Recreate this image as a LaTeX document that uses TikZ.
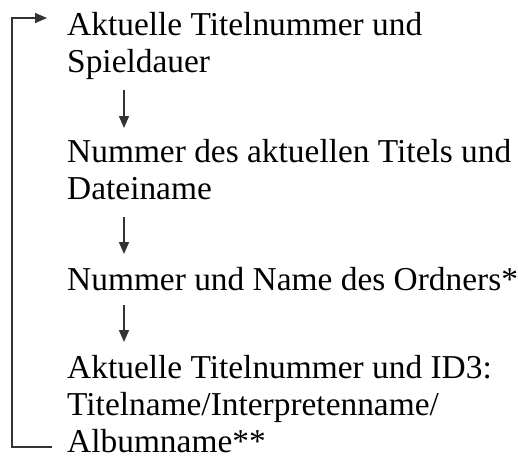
\documentclass[tikz,border=0pt]{standalone}
\usepackage{fontspec}
\setmainfont{Liberation Serif}
\usetikzlibrary{arrows.meta}
\begin{document}
\begin{tikzpicture}[x=1pt,y=-1pt,
  txt/.style={anchor=base west,inner sep=0pt,font=\fontsize{33.4}{37}\selectfont,text=black},
  conn/.style={line width=1.5pt,draw=black!80},
  arr/.style={conn,-{Triangle[length=12pt,width=10pt]}}]
\useasboundingbox (0,0) rectangle (518,459);
\coordinate (ax) at (124,0);
\node[txt] (b1a) at (67,35) {Aktuelle Titelnummer und};
\node[txt] (b1b) at (67,72) {Spieldauer};
\node[txt] (b2a) at (67,162) {Nummer des aktuellen Titels und};
\node[txt] (b2b) at (67,199) {Dateiname};
\node[txt] (b3a) at (67,290) {Nummer und Name des Ordners*};
\node[txt] (b4a) at (67,378) {Aktuelle Titelnummer und ID3:};
\node[txt] (b4b) at (67,415) {Titelname/Interpretenname/};
\node[txt] (b4c) at (67,452) {Albumname**};
\draw[arr] ([yshift=-18pt]b1b.base west -| ax) -- ([yshift=34pt]b2a.base west -| ax);
\draw[arr] ([yshift=-18pt]b2b.base west -| ax) -- ([yshift=36pt]b3a.base west -| ax);
\draw[arr] ([yshift=-15pt]b3a.base west -| ax) -- ([yshift=36pt]b4a.base west -| ax);
\draw[arr] ([xshift=-15pt,yshift=5pt]b4c.base west) -- ++(-40,0) |- ([xshift=-20pt,yshift=17pt]b1a.base west);
\end{tikzpicture}
\end{document}
